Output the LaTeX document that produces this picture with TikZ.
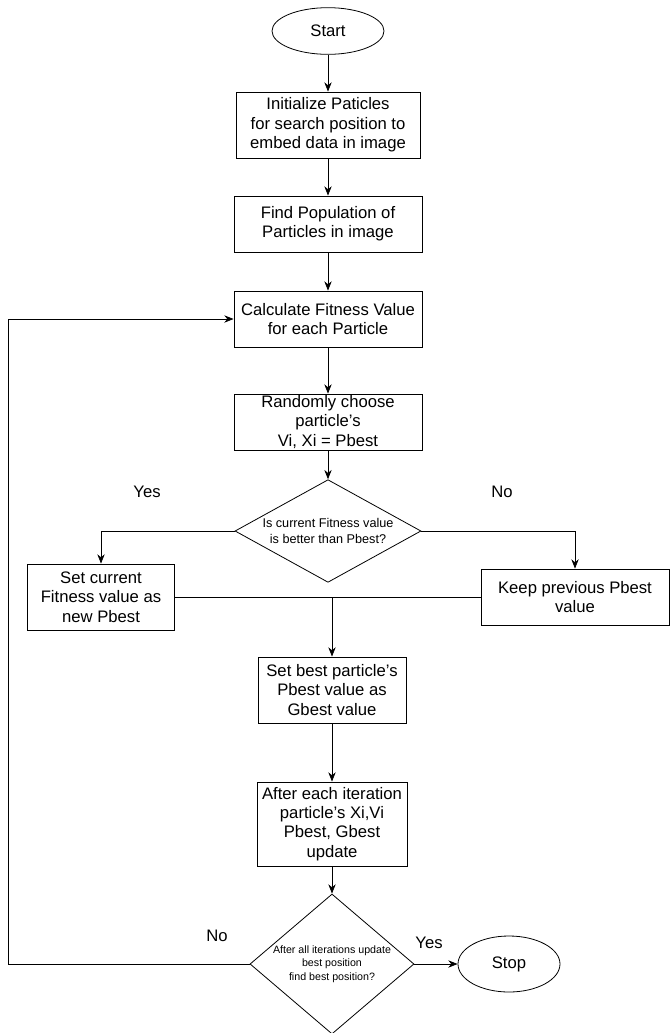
\documentclass[tikz,border=0pt]{standalone}
\usepackage{fontspec}
\setmainfont{Liberation Sans}
\usepackage{tikz}
\usetikzlibrary{shapes.geometric,arrows.meta}

\tikzset{
    procbox/.style={draw, rectangle, align=center, inner sep=1pt, font=\fontsize{12.5}{14.5}\selectfont},
    termbox/.style={draw, ellipse, inner sep=0pt, font=\fontsize{12.5}{14.5}\selectfont},
    decbox/.style={draw, diamond, align=center, inner sep=0pt},
    lbl/.style={inner sep=0.75pt, font=\fontsize{12.5}{14.5}\selectfont},
    arr/.style={-{Stealth[length=7pt,width=5.5pt]}},
}

\begin{document}
\begin{tikzpicture}[x=0.75pt,y=0.75pt,yscale=-1,xscale=1, line width=0.6pt]
    \useasboundingbox (0,0) rectangle (670,1033);

        \node [termbox, minimum width=84pt, minimum height=35pt] (start) at (328,31) {Start};
        \node [procbox, minimum width=138pt, minimum height=49.5pt] (init) at (328,125) {Initialize Paticles\\for search position to\\embed data in image};
        \node [procbox, minimum width=141pt, minimum height=42pt] (find) at (328,224) {Find Population of\\Particles in image};
        \node [procbox, minimum width=141pt, minimum height=42pt] (calc) at (328,319) {Calculate Fitness Value\\for each Particle};
        \node [procbox, minimum width=141pt, minimum height=42pt] (rand) at (328,422) {Randomly choose\\particle's\\Vi, Xi = Pbest};
        \node [decbox, aspect=1.8, minimum width=139.5pt, minimum height=77pt, font=\fontsize{9.5}{11.5}\selectfont] (dec1) at (328,531) {Is current Fitness value\\is better than Pbest?};
        \node [procbox, minimum width=110pt, minimum height=49.5pt] (setcur) at (101,597) {Set current\\Fitness value as\\new Pbest};
        \node [procbox, minimum width=141pt, minimum height=42pt] (keep) at (575,597) {Keep previous Pbest\\value};
        \node [procbox, minimum width=111pt, minimum height=49.5pt] (setbest) at (332,690) {Set best particle's\\Pbest value as\\Gbest value};
        \node [procbox, minimum width=112.5pt, minimum height=63pt] (after) at (332,824) {After each iteration\\particle's Xi,Vi\\Pbest, Gbest\\update};
        \node [decbox, aspect=1.15, minimum width=123pt, minimum height=105pt, font=\fontsize{8}{10}\selectfont] (dec2) at (332,964) {After all iterations update\\best position\\find best position?};
        \node [termbox, minimum width=76.5pt, minimum height=42pt] (stop) at (509,964) {Stop};

        \node [lbl] (yes1) at (147,492) {Yes};
        \node [lbl] (no1) at (502,492) {No};
        \node [lbl] (no2) at (217,936) {No};
        \node [lbl] (yes2) at (429,943) {Yes};

        \coordinate (merge) at (setbest.north |- setcur.east);
        \coordinate (loop) at (8,964);

        \draw [arr] (start) -- (init);
        \draw [arr] (init) -- (find);
        \draw [arr] (find) -- (calc);
        \draw [arr] (calc) -- (rand);
        \draw [arr] (rand) -- (dec1);
        \draw [arr] (dec1.west) -| (setcur.north);
        \draw [arr] (dec1.east) -| (keep.north);
        \draw (setcur.east) -- (keep.west);
        \draw [arr] (merge) -- (setbest);
        \draw [arr] (setbest) -- (after);
        \draw [arr] (after) -- (dec2);
        \draw [arr] (dec2.east) -- (stop.west);
        \draw [arr] (dec2.west) -- (loop) |- (calc.west);

\end{tikzpicture}
\end{document}
